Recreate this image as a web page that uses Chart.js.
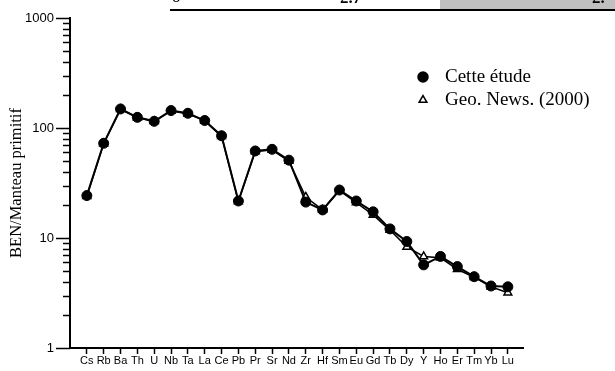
<!DOCTYPE html>
<html>
<head>
<meta charset="utf-8">
<script src="https://cdn.jsdelivr.net/npm/chart.js@4"></script>
<style>
  html, body { margin:0; padding:0; background:#fff; }
  #wrap { width:615px; height:371px; position:relative; }
</style>
</head>
<body>
<div id="wrap"><canvas id="spider"></canvas></div>
<script>
// éléments (ordre du diagramme multi-élémentaire)
const elements = ['Cs','Rb','Ba','Th','U','Nb','Ta','La','Ce','Pb','Pr','Sr','Nd','Zr','Hf','Sm','Eu','Gd','Tb','Dy','Y','Ho','Er','Tm','Yb','Lu'];

// BEN normalisé au manteau primitif
const cetteEtude = [24.3, 72.6, 149, 125, 115, 144, 136, 117, 85, 21.7, 61.8, 64, 51, 21.2, 18, 27.3, 21.7, 17.3, 12.1, 9.3, 5.7, 6.8, 5.5, 4.45, 3.66, 3.6];
const geoNews    = [24.0, 72.0, 148, 124, 115, 143, 135, 116, 84, 21.5, 61.0, 63, 50, 23.6, 18, 27.0, 21.0, 16.2, 11.8, 8.3, 6.8, 6.6, 5.2, 4.4, 3.6, 3.18];

const seriesNames = ['Cette étude', 'Geo. News. (2000)'];

// graduations de l'axe log
const yTicks = [1,2,3,4,5,6,7,8,9,10,20,30,40,50,60,70,80,90,100,200,300,400,500,600,700,800,900,1000];
const yLabels = [1, 10, 100, 1000];

const serif = "'Liberation Serif', 'Times New Roman', serif";
const sans = "'Liberation Sans', Arial, sans-serif";

// ticks majeurs / mineurs de l'axe y
const yTickMarks = {
    id: 'yTickMarks',
    afterDraw(chart){
        const ctx = chart.ctx;
        const y = chart.scales.y;
        const left = chart.chartArea.left;
        ctx.save();
        ctx.strokeStyle = '#000';
        ctx.lineWidth = 1.5;
        y.ticks.forEach(t => {
            const py = Math.round(y.getPixelForValue(t.value)) + 0.5;
            const len = yLabels.includes(t.value) ? 14 : 7;
            ctx.beginPath();
            ctx.moveTo(left - len, py);
            ctx.lineTo(left, py);
            ctx.stroke();
        });
        ctx.restore();
    }
};

// légende + restes du tableau au-dessus
const decor = {
    id: 'decor',
    afterDraw(chart){
        const ctx = chart.ctx;
        ctx.save();
        // bas du tableau coupé
        ctx.fillStyle = '#c0c0c0';
        ctx.fillRect(440, 0, 175, 9);
        ctx.fillStyle = '#000';
        ctx.fillRect(170, 9, 445, 2);
        ctx.font = 'bold 17px ' + serif;
        ctx.textBaseline = 'alphabetic';
        ctx.fillText('2.7', 340, 3);
        ctx.fillText('2.', 592, 3);
        ctx.font = '17px ' + serif;
        ctx.fillText('o', 172, 2);

        // légende
        const rows = [
            { y: 77, style: 'circle', r: 5, fill: '#000' },
            { y: 100, style: 'triangle', r: 4.5, fill: '#fff' }
        ];
        rows.forEach((row, i) => {
            ctx.fillStyle = row.fill;
            ctx.strokeStyle = '#000';
            ctx.lineWidth = 1.5;
            Chart.helpers.drawPoint(ctx, { pointStyle: row.style, radius: row.r, borderWidth: 1.5, rotation: 0 }, 423, row.y);
            ctx.fillStyle = '#000';
            ctx.font = '19px ' + serif;
            ctx.textBaseline = 'middle';
            ctx.textAlign = 'left';
            ctx.fillText(seriesNames[i], 445, row.y);
        });
        ctx.restore();
    }
};

new Chart(document.getElementById('spider'), {
    type: 'line',
    data: {
        datasets: [{
            label: seriesNames[0],
            data: elements.map((e, i) => ({ x: i, y: cetteEtude[i] })),
            borderColor: '#000',
            borderWidth: 2,
            pointStyle: 'circle',
            pointRadius: 5,
            pointBackgroundColor: '#000',
            pointBorderColor: '#000',
            pointBorderWidth: 1,
            tension: 0
        }, {
            label: seriesNames[1],
            data: elements.map((e, i) => ({ x: i, y: geoNews[i] })),
            borderColor: '#000',
            borderWidth: 1.5,
            pointStyle: 'triangle',
            pointRadius: 4.5,
            pointBackgroundColor: '#fff',
            pointBorderColor: '#000',
            pointBorderWidth: 1.5,
            tension: 0
        }]
    },
    options: {
        responsive: true,
        maintainAspectRatio: false,
        animation: false,
        events: [],
        layout: { padding: { top: 18, right: 92, left: 0, bottom: 0 } },
        plugins: { legend: { display: false }, tooltip: { enabled: false } },
        scales: {
            x: {
                type: 'linear',
                min: -1,
                max: 25.9,
                afterBuildTicks: s => { s.ticks = elements.map((e, i) => ({ value: i })); },
                afterFit: s => { s.height = 23; },
                ticks: {
                    autoSkip: false,
                    maxRotation: 0,
                    padding: 0,
                    color: '#000',
                    font: { family: sans, size: 11 },
                    callback: v => elements[v]
                },
                grid: { drawOnChartArea: false, drawTicks: true, tickLength: 6, tickColor: '#000', tickWidth: 1.5 },
                border: { display: true, color: '#000', width: 2 }
            },
            y: {
                type: 'logarithmic',
                min: 1,
                max: 1000,
                afterBuildTicks: s => { s.ticks = yTicks.map(v => ({ value: v, major: yLabels.includes(v) })); },
                afterFit: s => { s.width = 70; },
                ticks: {
                    autoSkip: false,
                    padding: 2,
                    color: '#000',
                    font: { family: sans, size: 13 },
                    callback: v => yLabels.includes(v) ? String(v) : ''
                },
                grid: { drawOnChartArea: false, drawTicks: true, tickLength: 14, color: 'transparent' },
                border: { display: true, color: '#000', width: 2 },
                title: {
                    display: true,
                    text: 'BEN/Manteau primitif',
                    color: '#000',
                    font: { family: serif, size: 16.5 },
                    padding: { top: 7, bottom: 0 }
                }
            }
        }
    },
    plugins: [yTickMarks, decor]
});
</script>
</body>
</html>
